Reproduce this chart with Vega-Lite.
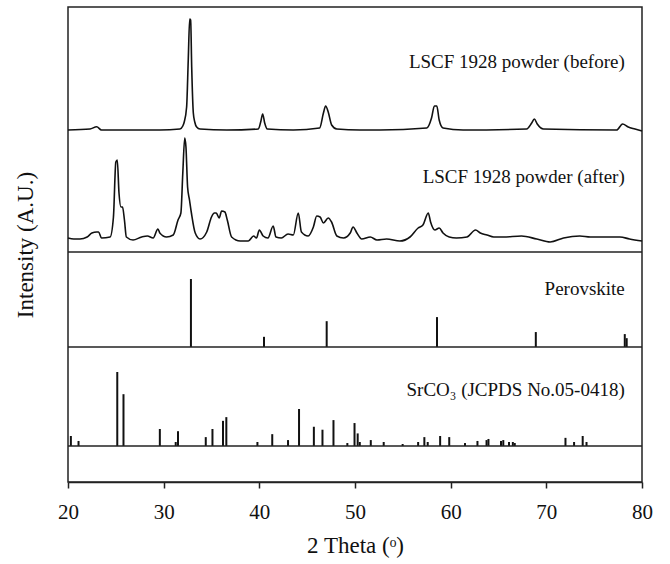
{
  "$schema": "https://vega.github.io/schema/vega-lite/v6.json",
  "autosize": {"type": "none"},
  "padding": {"left": 68, "top": 7, "right": 28, "bottom": 82},
  "background": "white",
  "width": 574,
  "height": 475,
  "config": {
    "font": "Liberation Serif",
    "view": {"stroke": "#222", "strokeWidth": 1.5},
    "text": {"font": "Liberation Serif", "fontSize": 19, "color": "#111", "align": "right", "baseline": "middle"},
    "axis": {"grid": false, "labelFont": "Liberation Serif", "titleFont": "Liberation Serif", "labelColor": "#111", "titleColor": "#111", "tickColor": "#222", "domainColor": "#222", "labelFontSize": 21, "titleFontSize": 23, "titleFontWeight": "normal", "tickSize": 6, "tickWidth": 1.5, "domainWidth": 1.5}
  },
  "datasets": {
    "before": [
      {"theta": 20.0, "intensity": 0}, {"theta": 22.3, "intensity": 1}, {"theta": 23.0, "intensity": 3.3}, {"theta": 23.5, "intensity": 0},
      {"theta": 26.1, "intensity": 0}, {"theta": 29.6, "intensity": 0}, {"theta": 31.7, "intensity": 1}, {"theta": 32.0, "intensity": 4},
      {"theta": 32.15, "intensity": 8}, {"theta": 32.4, "intensity": 23}, {"theta": 32.57, "intensity": 70}, {"theta": 32.72, "intensity": 111},
      {"theta": 32.82, "intensity": 110}, {"theta": 32.93, "intensity": 63}, {"theta": 33.1, "intensity": 17}, {"theta": 33.25, "intensity": 8},
      {"theta": 33.45, "intensity": 3}, {"theta": 33.8, "intensity": 1}, {"theta": 36.6, "intensity": 0}, {"theta": 39.9, "intensity": 1},
      {"theta": 40.14, "intensity": 8}, {"theta": 40.35, "intensity": 16}, {"theta": 40.56, "intensity": 7}, {"theta": 40.83, "intensity": 1},
      {"theta": 43.55, "intensity": 0}, {"theta": 46.3, "intensity": 2}, {"theta": 46.7, "intensity": 17}, {"theta": 46.93, "intensity": 24},
      {"theta": 47.2, "intensity": 18}, {"theta": 47.56, "intensity": 5}, {"theta": 48.1, "intensity": 1}, {"theta": 50.5, "intensity": 0},
      {"theta": 52.6, "intensity": 0}, {"theta": 57.5, "intensity": 2}, {"theta": 58.0, "intensity": 12}, {"theta": 58.3, "intensity": 24},
      {"theta": 58.55, "intensity": 24}, {"theta": 58.8, "intensity": 10}, {"theta": 59.2, "intensity": 2}, {"theta": 61.3, "intensity": 0},
      {"theta": 67.94, "intensity": 1}, {"theta": 68.47, "intensity": 7}, {"theta": 68.74, "intensity": 11}, {"theta": 69.05, "intensity": 6},
      {"theta": 69.7, "intensity": 1}, {"theta": 77.35, "intensity": 0}, {"theta": 77.97, "intensity": 6}, {"theta": 78.56, "intensity": 3},
      {"theta": 79.27, "intensity": 1}, {"theta": 80.0, "intensity": -1}
    ],
    "after": [
      {"theta": 20.0, "intensity": 2}, {"theta": 20.6, "intensity": 1}, {"theta": 21.25, "intensity": 1}, {"theta": 22.0, "intensity": 3},
      {"theta": 22.5, "intensity": 7}, {"theta": 23.0, "intensity": 8}, {"theta": 23.2, "intensity": 8}, {"theta": 23.5, "intensity": 2},
      {"theta": 24.4, "intensity": 3}, {"theta": 24.75, "intensity": 23}, {"theta": 25.0, "intensity": 78}, {"theta": 25.15, "intensity": 80},
      {"theta": 25.33, "intensity": 47}, {"theta": 25.54, "intensity": 33}, {"theta": 25.7, "intensity": 33}, {"theta": 25.9, "intensity": 20},
      {"theta": 26.1, "intensity": 3}, {"theta": 26.8, "intensity": 0}, {"theta": 27.7, "intensity": 3}, {"theta": 28.3, "intensity": 4},
      {"theta": 28.9, "intensity": 2}, {"theta": 29.4, "intensity": 11}, {"theta": 29.6, "intensity": 7}, {"theta": 30.3, "intensity": 3},
      {"theta": 31.0, "intensity": 5}, {"theta": 31.5, "intensity": 20}, {"theta": 31.8, "intensity": 27}, {"theta": 32.0, "intensity": 67},
      {"theta": 32.2, "intensity": 102}, {"theta": 32.33, "intensity": 93}, {"theta": 32.5, "intensity": 53}, {"theta": 32.7, "intensity": 40},
      {"theta": 32.9, "intensity": 27}, {"theta": 33.3, "intensity": 7}, {"theta": 33.8, "intensity": 1}, {"theta": 34.5, "intensity": 8},
      {"theta": 35.0, "intensity": 23}, {"theta": 35.3, "intensity": 27}, {"theta": 35.5, "intensity": 27}, {"theta": 35.8, "intensity": 22},
      {"theta": 36.06, "intensity": 29}, {"theta": 36.4, "intensity": 28}, {"theta": 36.65, "intensity": 20}, {"theta": 37.1, "intensity": 3},
      {"theta": 38.0, "intensity": -1}, {"theta": 38.85, "intensity": -1}, {"theta": 39.4, "intensity": 4}, {"theta": 39.7, "intensity": 2},
      {"theta": 40.0, "intensity": 10}, {"theta": 40.4, "intensity": 4}, {"theta": 40.9, "intensity": 2}, {"theta": 41.45, "intensity": 14},
      {"theta": 41.74, "intensity": 3}, {"theta": 42.3, "intensity": 2}, {"theta": 43.0, "intensity": 6}, {"theta": 43.55, "intensity": 5},
      {"theta": 44.07, "intensity": 27}, {"theta": 44.4, "intensity": 8}, {"theta": 45.1, "intensity": 4}, {"theta": 45.65, "intensity": 13},
      {"theta": 46.0, "intensity": 24}, {"theta": 46.35, "intensity": 23}, {"theta": 46.7, "intensity": 17}, {"theta": 47.2, "intensity": 22},
      {"theta": 47.55, "intensity": 18}, {"theta": 48.1, "intensity": 4}, {"theta": 48.8, "intensity": 2}, {"theta": 49.5, "intensity": 7},
      {"theta": 49.8, "intensity": 13}, {"theta": 50.2, "intensity": 7}, {"theta": 50.7, "intensity": 1}, {"theta": 51.6, "intensity": 3},
      {"theta": 52.3, "intensity": 0}, {"theta": 53.3, "intensity": 1}, {"theta": 54.7, "intensity": -1}, {"theta": 55.75, "intensity": 3},
      {"theta": 56.6, "intensity": 12}, {"theta": 57.1, "intensity": 15}, {"theta": 57.66, "intensity": 27}, {"theta": 57.9, "intensity": 18},
      {"theta": 58.35, "intensity": 10}, {"theta": 58.8, "intensity": 12}, {"theta": 59.2, "intensity": 7}, {"theta": 59.85, "intensity": 3},
      {"theta": 60.6, "intensity": 2}, {"theta": 61.7, "intensity": 3}, {"theta": 62.6, "intensity": 10}, {"theta": 63.1, "intensity": 7},
      {"theta": 63.8, "intensity": 5}, {"theta": 64.5, "intensity": 3}, {"theta": 65.5, "intensity": 3}, {"theta": 67.4, "intensity": 4},
      {"theta": 69.0, "intensity": 1}, {"theta": 70.4, "intensity": -2}, {"theta": 71.8, "intensity": 2}, {"theta": 73.5, "intensity": 4},
      {"theta": 74.6, "intensity": 3}, {"theta": 75.95, "intensity": 3}, {"theta": 77.7, "intensity": 3}, {"theta": 78.7, "intensity": 1},
      {"theta": 80.0, "intensity": -1}
    ],
    "perovskite": [
      {"theta": 32.85, "intensity": 100}, {"theta": 40.49, "intensity": 15}, {"theta": 47.04, "intensity": 38},
      {"theta": 58.57, "intensity": 44}, {"theta": 68.9, "intensity": 22}, {"theta": 78.2, "intensity": 19}, {"theta": 78.4, "intensity": 13}
    ],
    "srco3": [
      {"theta": 20.3, "intensity": 13.5}, {"theta": 21.1, "intensity": 6.8}, {"theta": 25.15, "intensity": 100}, {"theta": 25.8, "intensity": 70},
      {"theta": 29.6, "intensity": 23}, {"theta": 31.26, "intensity": 5.4}, {"theta": 31.5, "intensity": 20}, {"theta": 34.4, "intensity": 12},
      {"theta": 35.1, "intensity": 23}, {"theta": 36.2, "intensity": 34}, {"theta": 36.55, "intensity": 39}, {"theta": 39.8, "intensity": 5.4},
      {"theta": 41.35, "intensity": 16}, {"theta": 43.0, "intensity": 8}, {"theta": 44.15, "intensity": 50}, {"theta": 45.7, "intensity": 26},
      {"theta": 46.6, "intensity": 22}, {"theta": 47.75, "intensity": 35}, {"theta": 49.2, "intensity": 4}, {"theta": 49.95, "intensity": 31},
      {"theta": 50.28, "intensity": 17}, {"theta": 50.5, "intensity": 5.4}, {"theta": 51.65, "intensity": 8}, {"theta": 53.0, "intensity": 5.4},
      {"theta": 54.98, "intensity": 2.7}, {"theta": 56.6, "intensity": 5.4}, {"theta": 57.25, "intensity": 12}, {"theta": 57.6, "intensity": 5.4},
      {"theta": 58.9, "intensity": 13.5}, {"theta": 59.85, "intensity": 12}, {"theta": 61.5, "intensity": 4}, {"theta": 62.8, "intensity": 6.8},
      {"theta": 63.75, "intensity": 8}, {"theta": 63.95, "intensity": 9.5}, {"theta": 65.26, "intensity": 6.8}, {"theta": 65.5, "intensity": 8},
      {"theta": 66.1, "intensity": 5.4}, {"theta": 66.5, "intensity": 5.4}, {"theta": 66.7, "intensity": 4}, {"theta": 72.0, "intensity": 11},
      {"theta": 72.9, "intensity": 5.4}, {"theta": 73.8, "intensity": 13.5}, {"theta": 74.2, "intensity": 5.4}
    ],
    "one": [{"n": 1}]
  },
  "resolve": {"scale": {"y": "independent"}},
  "layer": [
    {
      "data": {"name": "before"},
      "mark": {"type": "line", "color": "#111", "strokeWidth": 1.6, "interpolate": "monotone"},
      "encoding": {
        "x": {"field": "theta", "type": "quantitative", "title": "2 Theta (ᵒ)", "scale": {"domain": [20, 80], "nice": false, "zero": false}, "axis": {"values": [20, 30, 40, 50, 60, 70, 80], "labelFlush": false, "labelPadding": 13, "titlePadding": 12}},
        "y": {"field": "intensity", "type": "quantitative", "title": "Intensity (A.U.)", "scale": {"domain": [-352, 123], "nice": false, "zero": false}, "axis": {"labels": false, "ticks": false, "domain": false, "titlePadding": 31}}
      }
    },
    {
      "data": {"name": "one"},
      "mark": {"type": "text", "text": "LSCF 1928 powder (before)"},
      "encoding": {
        "x": {"datum": 78.2, "type": "quantitative"},
        "y": {"datum": 68, "type": "quantitative", "scale": {"domain": [-352, 123], "nice": false, "zero": false}, "axis": null}
      }
    },
    {
      "data": {"name": "after"},
      "mark": {"type": "line", "color": "#111", "strokeWidth": 1.6, "interpolate": "monotone"},
      "encoding": {
        "x": {"field": "theta", "type": "quantitative"},
        "y": {"field": "intensity", "type": "quantitative", "scale": {"domain": [-242, 233], "nice": false, "zero": false}, "axis": null}
      }
    },
    {
      "data": {"name": "one"},
      "mark": {"type": "text", "text": "LSCF 1928 powder (after)"},
      "encoding": {
        "x": {"datum": 78.2, "type": "quantitative"},
        "y": {"datum": 63, "type": "quantitative", "scale": {"domain": [-242, 233], "nice": false, "zero": false}, "axis": null}
      }
    },
    {
      "data": {"name": "perovskite"},
      "mark": {"type": "rule", "color": "#111", "strokeWidth": 2},
      "encoding": {
        "x": {"field": "theta", "type": "quantitative"},
        "y": {"field": "intensity", "type": "quantitative", "scale": {"domain": [-198.5, 500], "nice": false, "zero": false}, "axis": null},
        "y2": {"datum": 0}
      }
    },
    {
      "data": {"name": "one"},
      "mark": {"type": "rule", "color": "#222", "strokeWidth": 1.5},
      "encoding": {
        "y": {"datum": 0, "type": "quantitative", "scale": {"domain": [-198.5, 500], "nice": false, "zero": false}, "axis": null}
      }
    },
    {
      "data": {"name": "one"},
      "mark": {"type": "rule", "color": "#222", "strokeWidth": 1.5},
      "encoding": {
        "y": {"datum": 139.7, "type": "quantitative", "scale": {"domain": [-198.5, 500], "nice": false, "zero": false}, "axis": null}
      }
    },
    {
      "data": {"name": "one"},
      "mark": {"type": "text", "text": "Perovskite"},
      "encoding": {
        "x": {"datum": 78.2, "type": "quantitative"},
        "y": {"datum": 85, "type": "quantitative", "scale": {"domain": [-198.5, 500], "nice": false, "zero": false}, "axis": null}
      }
    },
    {
      "data": {"name": "srco3"},
      "mark": {"type": "rule", "color": "#111", "strokeWidth": 2},
      "encoding": {
        "x": {"field": "theta", "type": "quantitative"},
        "y": {"field": "intensity", "type": "quantitative", "scale": {"domain": [-48.65, 593.2], "nice": false, "zero": false}, "axis": null},
        "y2": {"datum": 0}
      }
    },
    {
      "data": {"name": "one"},
      "mark": {"type": "rule", "color": "#222", "strokeWidth": 1.5},
      "encoding": {
        "y": {"datum": 0, "type": "quantitative", "scale": {"domain": [-48.65, 593.2], "nice": false, "zero": false}, "axis": null}
      }
    },
    {
      "data": {"name": "one"},
      "mark": {"type": "text", "text": "SrCO₃ (JCPDS No.05-0418)"},
      "encoding": {
        "x": {"datum": 78.2, "type": "quantitative"},
        "y": {"datum": 75.7, "type": "quantitative", "scale": {"domain": [-48.65, 593.2], "nice": false, "zero": false}, "axis": null}
      }
    }
  ]
}
